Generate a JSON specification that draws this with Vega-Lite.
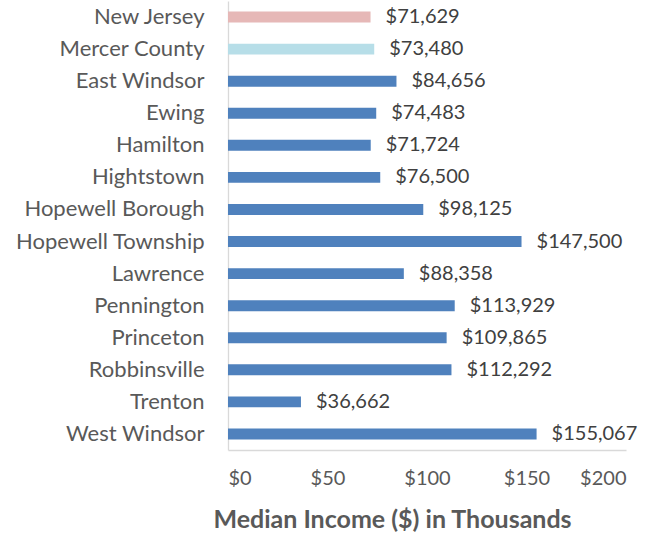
{
  "$schema": "https://vega.github.io/schema/vega-lite/v6.json",
  "width": 398,
  "height": 449,
  "autosize": "none",
  "padding": {"left": 228, "top": 1, "right": 41, "bottom": 83},
  "background": "white",
  "config": {"view": {"stroke": null}, "font": "Lato"},
  "data": {
    "values": [
      {"place": "New Jersey", "income": 71629, "type": "State"},
      {"place": "Mercer County", "income": 73480, "type": "County"},
      {"place": "East Windsor", "income": 84656, "type": "Municipality"},
      {"place": "Ewing", "income": 74483, "type": "Municipality"},
      {"place": "Hamilton", "income": 71724, "type": "Municipality"},
      {"place": "Hightstown", "income": 76500, "type": "Municipality"},
      {"place": "Hopewell Borough", "income": 98125, "type": "Municipality"},
      {"place": "Hopewell Township", "income": 147500, "type": "Municipality"},
      {"place": "Lawrence", "income": 88358, "type": "Municipality"},
      {"place": "Pennington", "income": 113929, "type": "Municipality"},
      {"place": "Princeton", "income": 109865, "type": "Municipality"},
      {"place": "Robbinsville", "income": 112292, "type": "Municipality"},
      {"place": "Trenton", "income": 36662, "type": "Municipality"},
      {"place": "West Windsor", "income": 155067, "type": "Municipality"}
    ]
  },
  "encoding": {
    "y": {
      "field": "place", "type": "nominal", "sort": null,
      "scale": {"paddingInner": 0.66, "paddingOuter": 0.33},
      "axis": {
        "title": null, "ticks": false, "domainColor": "#d9d9d9", "domainWidth": 1.3,
        "labelFont": "Lato", "labelFontSize": 22, "labelColor": "#595959", "labelPadding": 24,
        "labelLimit": 300
      }
    },
    "x": {
      "field": "income", "type": "quantitative",
      "scale": {"domain": [0, 200000], "nice": false},
      "axis": {
        "title": "Median Income ($) in Thousands",
        "values": [0, 50000, 100000, 150000, 200000],
        "labelExpr": "'$' + format(datum.value / 1000, 'd')",
        "grid": false, "ticks": false, "domainColor": "#d9d9d9", "domainWidth": 1.3,
        "labelFont": "Lato", "labelFontSize": 20, "labelColor": "#595959", "labelPadding": 18,
        "titleFont": "Lato", "titleFontSize": 25, "titleFontWeight": "bold", "titleColor": "#595959",
        "titlePadding": 19, "titleX": 164, "titleAnchor": null
      }
    }
  },
  "layer": [
    {
      "mark": {"type": "bar"},
      "encoding": {
        "color": {
          "field": "type", "type": "nominal", "legend": null,
          "scale": {"domain": ["State", "County", "Municipality"], "range": ["#e6b8b7", "#b7dee8", "#4f81bd"]}
        }
      }
    },
    {
      "mark": {"type": "text", "align": "left", "baseline": "middle", "dx": 15, "font": "Lato", "fontSize": 20, "color": "#404040"},
      "encoding": {"text": {"field": "income", "type": "quantitative", "format": "$,d"}}
    }
  ]
}
